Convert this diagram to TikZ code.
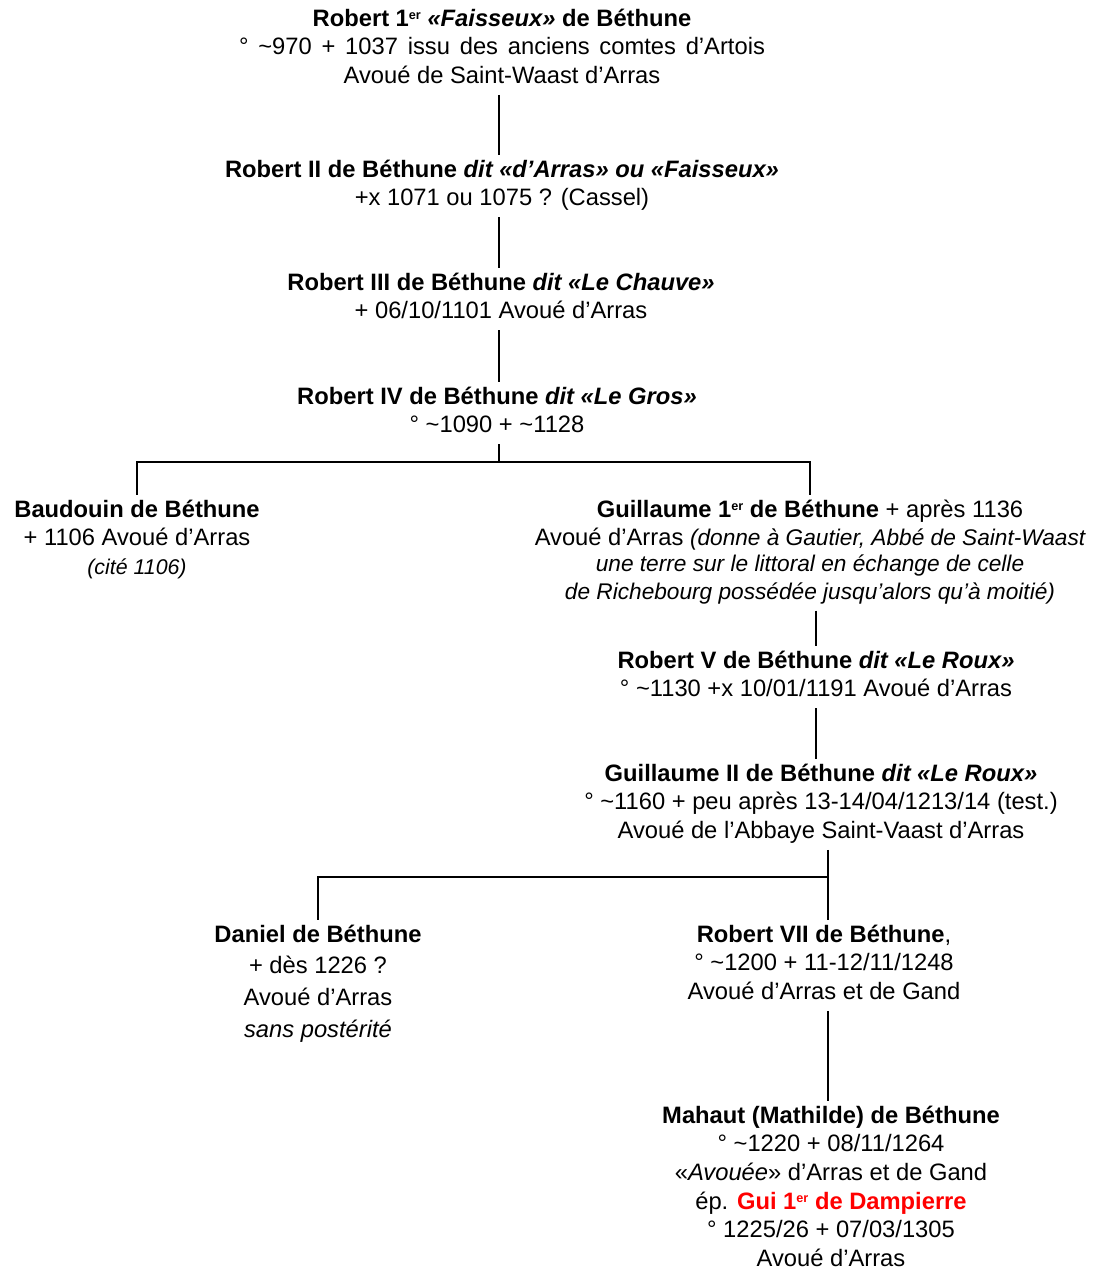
\documentclass[tikz,border=0pt]{standalone}
\usepackage{fontspec}
\usepackage{xcolor}
\usepackage{tikz}
\usetikzlibrary{calc}
\setmainfont{Liberation Sans}
\newcommand{\smallit}[1]{{\fontsize{17}{19}\selectfont\itshape #1}}
\newcommand{\ordsup}[1]{\raisebox{0.55ex}{\fontsize{9.5}{10}\selectfont #1}}
\tikzset{person/.style={align=center,anchor=north,inner sep=0pt,outer sep=2pt,
  font=\fontsize{17.8}{21.5}\selectfont}}

\begin{document}
\begin{tikzpicture}[x=0.75pt,y=-0.75pt,line width=1.4pt]
\useasboundingbox (0,0) rectangle (1093,1270);
% forks
\coordinate (f1) at (499,462);
\coordinate (f2) at (828,877);
% generations
\node[person] (r1) at (502,3.5) {\textbf{Robert 1\ordsup{er} \textit{«Faisseux»} de Béthune}\strut\\
  \makebox[394.5pt][s]{° \textasciitilde970 + 1037 issu des anciens comtes d’Artois}\\
  Avoué de Saint-Waast d’Arras\strut};
\node[person] (r2) at (502,154.5) {\textbf{Robert II de Béthune \textit{dit «d’Arras» ou «Faisseux»}}\strut\\
  +x 1071 ou 1075 ? (Cassel)\strut};
\node[person] (r3) at (501,267.5) {\textbf{Robert III de Béthune \textit{dit «Le Chauve»}}\strut\\
  + 06/10/1101 Avoué d’Arras\strut};
\node[person] (r4) at (497,381.5) {\textbf{Robert IV de Béthune \textit{dit «Le Gros»}}\strut\\
  ° \textasciitilde1090 + \textasciitilde1128\strut};
\node[person] (bau) at (137,494.5) {\textbf{Baudouin de Béthune}\strut\\
  + 1106 Avoué d’Arras\\
  {\fontsize{16}{19}\selectfont\itshape (cité 1106)}\strut};
\node[person] (g1) at (810,494.5) {\textbf{Guillaume 1\ordsup{er} de Béthune} + après 1136\strut\\
  Avoué d’Arras \smallit{(donne à Gautier, Abbé de Saint-Waast}\\[-2pt]
  \smallit{une terre sur le littoral en échange de celle}\\[-1pt]
  \smallit{de Richebourg possédée jusqu’alors qu’à moitié)}\strut};
\node[person] (r5) at (816,645.5) {\textbf{Robert V de Béthune \textit{dit «Le Roux»}}\strut\\
  ° \textasciitilde1130 +x 10/01/1191 Avoué d’Arras\strut};
\node[person] (g2) at (821,758.5) {\textbf{Guillaume II de Béthune \textit{dit «Le Roux»}}\strut\\
  ° \textasciitilde1160 + peu après 13-14/04/1213/14 (test.)\\
  Avoué de l’Abbaye Saint-Vaast d’Arras\strut};
\node[person] (dan) at (318,919.5) {\textbf{Daniel de Béthune}\strut\\[2pt]
  + dès 1226 ?\\[2.5pt]
  Avoué d’Arras\\[2.5pt]
  \textit{sans postérité}\strut};
\node[person] (r7) at (824,919.5) {\textbf{Robert VII de Béthune},\strut\\
  ° \textasciitilde1200 + 11-12/11/1248\\
  Avoué d’Arras et de Gand\strut};
\node[person] (mah) at (831,1100.5) {\textbf{Mahaut (Mathilde) de Béthune}\strut\\
  ° \textasciitilde1220 + 08/11/1264\\
  «\textit{Avouée}» d’Arras et de Gand\\
  ép. \textcolor{red}{\textbf{Gui 1\ordsup{er} de Dampierre}}\\
  ° 1225/26 + 07/03/1305\\
  Avoué d’Arras\strut};
% lines
\draw (r1.south -| f1) -- (r2.north -| f1);
\draw (r2.south -| f1) -- (r3.north -| f1);
\draw (r3.south -| f1) -- (r4.north -| f1);
\draw (r4.south -| f1) -- (f1);
\draw (bau.north) |- (f1) -| (g1.north);
\draw (g1.south -| r5.north) -- (r5.north);
\draw (r5.south) -- (r5.south |- g2.north);
\draw (g2.south -| f2) -- (f2);
\draw (dan.north) |- (f2) -- (f2 |- r7.north);
\draw (r7.south -| f2) -- (mah.north -| f2);
\end{tikzpicture}
\end{document}
